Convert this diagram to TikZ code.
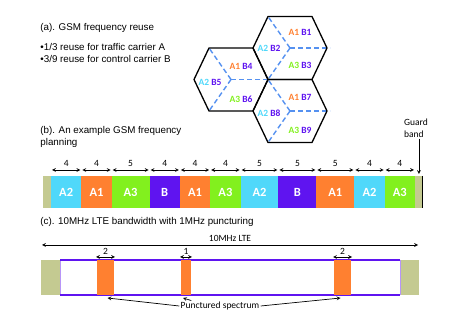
\documentclass[tikz,border=0pt]{standalone}
\usepackage{fontspec}
\setmainfont{Liberation Sans}
\newfontfamily\calibri{Carlito}
\usepackage{xcolor}
\usepackage{tikz}
\usetikzlibrary{shapes,arrows,positioning,calc}

\definecolor{cAone}{RGB}{255,128,48}
\definecolor{cAtwo}{RGB}{80,216,250}
\definecolor{cAthree}{RGB}{130,240,30}
\definecolor{cB}{RGB}{95,20,240}
\definecolor{cGuard}{RGB}{196,202,145}
\definecolor{cSplit}{RGB}{85,145,240}

\begin{document}
\begin{tikzpicture}[x=1pt, y=-1pt, node distance=0pt, thick,
		title/.style={anchor=west, inner sep=0pt, align=left, font=\fontsize{9.8}{12}\selectfont},
		hex/.style={draw=black, line width=1.3pt, line join=miter},
		split/.style={draw=cSplit, dash pattern=on 5pt off 3pt, line width=1.4pt},
		cell/.style={font=\calibri\bfseries\fontsize{9.5}{11}\selectfont, inner sep=0pt},
		seg/.style={rectangle, minimum height=32pt, inner sep=0pt, outer sep=0pt, text=white, font=\calibri\bfseries\fontsize{12.5}{14}\selectfont},
		four/.style={seg, minimum width=30.33pt},
		five/.style={seg, minimum width=37.92pt},
		guard/.style={rectangle, fill=cGuard, inner sep=0pt, outer sep=0pt},
		punc/.style={rectangle, fill=cAone, inner sep=0pt, outer sep=0pt, minimum height=35pt, anchor=north west},
		lbl/.style={font=\calibri\fontsize{9.5}{12}\selectfont, inner sep=1pt},
		dim/.style={<->, >=stealth, line width=0.7pt, shorten <=1pt, shorten >=1pt},
		arrow/.style={->, >=stealth, line width=0.7pt}]

		\useasboundingbox (0,0) rectangle (463,328);

		% (a) reuse pattern
		\node [title] (ta) at (40,28) {(a). GSM frequency reuse};
		\node [title] (bul) at (40,53) {\textbullet1/3 reuse for traffic carrier A\\\textbullet3/9 reuse for control carrier B};

		\draw [split] (290,48) -- ++(-22,-31.5);
		\draw [split] (290,48) -- ++(40,0);
		\draw [split] (290,48) -- ++(-22,31.5);
		\draw [split] (231,79.5) -- ++(-22,-31.5);
		\draw [split] (231,79.5) -- ++(37,0);
		\draw [split] (231,79.5) -- ++(-22,31.5);
		\draw [split] (290,111) -- ++(-22,-31.5);
		\draw [split] (290,111) -- ++(40,0);
		\draw [split] (290,111) -- ++(-22,31.5);

		\draw [hex] (253,48) -- ++(15,-31.5) -- ++(44,0) -- ++(15,31.5) -- ++(-15,31.5) -- ++(-44,0) -- cycle;
		\draw [hex] (194,79.5) -- ++(15,-31.5) -- ++(44,0) -- ++(15,31.5) -- ++(-15,31.5) -- ++(-44,0) -- cycle;
		\draw [hex] (253,111) -- ++(15,-31.5) -- ++(44,0) -- ++(15,31.5) -- ++(-15,31.5) -- ++(-44,0) -- cycle;

		\node [cell] (c1) at (300,32) {\textcolor{cAone}{A1} \textcolor{cB}{B1}};
		\node [cell] (c2) at (269,48) {\textcolor{cAtwo}{A2} \textcolor{cB}{B2}};
		\node [cell] (c3) at (300,65) {\textcolor{cAthree}{A3} \textcolor{cB}{B3}};
		\node [cell] (c4) at (241,66) {\textcolor{cAone}{A1} \textcolor{cB}{B4}};
		\node [cell] (c5) at (210,82) {\textcolor{cAtwo}{A2} \textcolor{cB}{B5}};
		\node [cell] (c6) at (241,99) {\textcolor{cAthree}{A3} \textcolor{cB}{B6}};
		\node [cell] (c7) at (300,97) {\textcolor{cAone}{A1} \textcolor{cB}{B7}};
		\node [cell] (c8) at (269,113) {\textcolor{cAtwo}{A2} \textcolor{cB}{B8}};
		\node [cell] (c9) at (300,130) {\textcolor{cAthree}{A3} \textcolor{cB}{B9}};

		% (b) frequency planning
		\node [title, anchor=north west] (tb) at (40,126) {(b). An example GSM frequency\\planning};

		\node [guard, minimum width=8pt, minimum height=32pt, anchor=north west] (gb1) at (43,176) {};
		\node [four, fill=cAtwo, right=of gb1] (b1) {A2};
		\node [four, fill=cAone, right=of b1] (b2) {A1};
		\node [five, fill=cAthree, right=of b2] (b3) {A3};
		\node [four, fill=cB, right=of b3] (b4) {B};
		\node [four, fill=cAone, right=of b4] (b5) {A1};
		\node [four, fill=cAthree, right=of b5] (b6) {A3};
		\node [five, fill=cAtwo, right=of b6] (b7) {A2};
		\node [five, fill=cB, right=of b7] (b8) {B};
		\node [five, fill=cAone, right=of b8] (b9) {A1};
		\node [four, fill=cAtwo, right=of b9] (b10) {A2};
		\node [four, fill=cAthree, right=of b10] (b11) {A3};
		\node [guard, minimum width=8pt, minimum height=32pt, right=of b11] (gb2) {};
		\draw [line width=1pt] (gb2.north east) -- (gb2.south east);

		\draw [dim] ([yshift=6pt]b1.north west) -- node [lbl, above=2pt] (w1) {4} ([yshift=6pt]b1.north east);
		\draw [dim] ([yshift=6pt]b2.north west) -- node [lbl, above=2pt] (w2) {4} ([yshift=6pt]b2.north east);
		\draw [dim] ([yshift=6pt]b3.north west) -- node [lbl, above=2pt] (w3) {5} ([yshift=6pt]b3.north east);
		\draw [dim] ([yshift=6pt]b4.north west) -- node [lbl, above=2pt] (w4) {4} ([yshift=6pt]b4.north east);
		\draw [dim] ([yshift=6pt]b5.north west) -- node [lbl, above=2pt] (w5) {4} ([yshift=6pt]b5.north east);
		\draw [dim] ([yshift=6pt]b6.north west) -- node [lbl, above=2pt] (w6) {4} ([yshift=6pt]b6.north east);
		\draw [dim] ([yshift=6pt]b7.north west) -- node [lbl, above=2pt] (w7) {5} ([yshift=6pt]b7.north east);
		\draw [dim] ([yshift=6pt]b8.north west) -- node [lbl, above=2pt] (w8) {5} ([yshift=6pt]b8.north east);
		\draw [dim] ([yshift=6pt]b9.north west) -- node [lbl, above=2pt] (w9) {5} ([yshift=6pt]b9.north east);
		\draw [dim] ([yshift=6pt]b10.north west) -- node [lbl, above=2pt] (w10) {4} ([yshift=6pt]b10.north east);
		\draw [dim] ([yshift=6pt]b11.north west) -- node [lbl, above=2pt] (w11) {4} ([yshift=6pt]b11.north east);

		\node [lbl, align=left] (gtxt) at (416,128) {Guard\\band};
		\draw [arrow, shorten >=2pt] (gb2.north |- gtxt.south) -- (gb2.north);

		% (c) LTE with puncturing
		\node [title] (tc) at (40,222) {(c). 10MHz LTE bandwidth with 1MHz puncturing};

		\node [guard, minimum width=19pt, minimum height=35pt, anchor=north west] (lg1) at (41,260) {};
		\node [rectangle, minimum width=340pt, minimum height=35pt, inner sep=0pt, outer sep=0pt, right=of lg1] (lte) {};
		\node [guard, minimum width=19pt, minimum height=35pt, right=of lte] (lg2) {};
		\draw [draw=cB!45, line width=0.6pt] (lte.north west) -- (lte.south west);
		\draw [draw=cB!45, line width=0.6pt] (lte.north east) -- (lte.south east);
		\draw [draw=cB, line width=1.5pt] (lte.north west) -- (lte.north east);
		\draw [draw=cB, line width=1.5pt] (lte.south west) -- (lte.south east);

		\node [punc, minimum width=17pt] (p1) at (97,260) {};
		\node [punc, minimum width=10pt] (p2) at (181,260) {};
		\node [punc, minimum width=17pt] (p3) at (334,260) {};

		\draw [dim] ([yshift=15pt]lg1.north west) -- node [lbl, above=2pt] (total) {10MHz LTE} ([yshift=15pt]lg2.north east);
		\draw [dim] ([xshift=-2pt, yshift=3pt]p1.north west) -- node [lbl, above=1pt] (wp1) {2} ([xshift=2pt, yshift=3pt]p1.north east);
		\draw [dim] ([xshift=-2pt, yshift=3pt]p2.north west) -- node [lbl, above=1pt] (wp2) {1} ([xshift=2pt, yshift=3pt]p2.north east);
		\draw [dim] ([xshift=-2pt, yshift=3pt]p3.north west) -- node [lbl, above=1pt] (wp3) {2} ([xshift=2pt, yshift=3pt]p3.north east);

		\node [lbl] (punct) at (220,306) {Punctured spectrum};
		\draw [arrow] (punct.west) -- ([xshift=2pt, yshift=-3pt]p1.south);
		\draw [arrow] ([xshift=12pt]punct.north west) -- ([xshift=-3pt, yshift=-3pt]p2.south);
		\draw [arrow] (punct.east) -- ([xshift=-2pt, yshift=-3pt]p3.south);

	\end{tikzpicture}
\end{document}
